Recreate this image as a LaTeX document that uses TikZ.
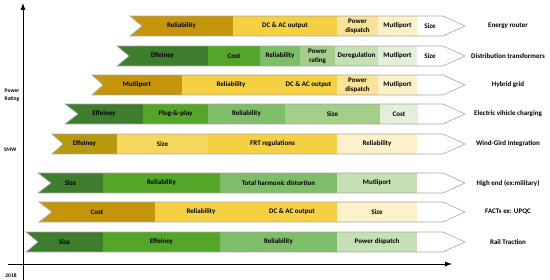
\documentclass[tikz,border=0pt]{standalone}
\usepackage{fontspec}
\setmainfont{Carlito}
\usepackage{tikz}
\usetikzlibrary{arrows.meta,positioning}

\definecolor{gold}{RGB}{197,150,12}
\definecolor{goldolive}{RGB}{184,152,14}
\definecolor{yel}{RGB}{245,208,66}
\definecolor{yelpale}{RGB}{250,226,150}
\definecolor{yelfaint}{RGB}{252,241,200}
\definecolor{grdark}{RGB}{62,125,46}
\definecolor{grmid}{RGB}{84,165,40}
\definecolor{grlight}{RGB}{126,190,104}
\definecolor{grpale}{RGB}{164,207,138}
\definecolor{grfaint}{RGB}{198,224,181}
\definecolor{grwhite}{RGB}{226,239,218}

\begin{document}
\begin{tikzpicture}[
  x=1pt,y=-1pt,
  font=\bfseries\fontsize{7}{9}\selectfont,
  seg/.style={anchor=north west,minimum height=20,inner sep=0pt,outer sep=0pt,align=center},
  rim/.style={draw=gray!70,line width=0.6pt},
  tag/.style={align=center},
  lab/.style={align=center,font=\bfseries\fontsize{5.5}{8}\selectfont},
  axis/.style={-{Latex[length=7pt,width=5pt]},line width=0.8pt}
]
\useasboundingbox (0,0) rectangle (550,280);

% energy router
\node[seg,fill=gold,minimum width=103] (er1) at (130,16) {Reliability};
\node[seg,fill=yel,minimum width=104,right=0pt of er1] (er2) {DC \& AC output};
\node[seg,fill=yelpale,minimum width=41,right=0pt of er2] (er3) {Power\\dispatch};
\node[seg,fill=yelfaint,minimum width=39,right=0pt of er3] (er4) {Mutliport};
\node[seg,minimum width=26,right=0pt of er4] (er5) {Size};
\fill[white] (130,16) -- (142,26) -- (130,36) -- cycle;
\draw[rim] (130,16) -- (443,16) -- (465,26) -- (443,36) -- (130,36) -- (142,26) -- cycle;
\node[tag] (erl) at (508,26) {Energy router};

% distribution transformers
\node[seg,fill=grdark,minimum width=91] (dt1) at (117,46) {Effeiney};
\node[seg,fill=grmid,minimum width=52,right=0pt of dt1] (dt2) {Cost};
\node[seg,fill=grlight,minimum width=40,right=0pt of dt2] (dt3) {Reliability};
\node[seg,fill=grpale,minimum width=35,right=0pt of dt3] (dt4) {Power\\rating};
\node[seg,fill=grfaint,minimum width=43,right=0pt of dt4] (dt5) {Deregulation};
\node[seg,fill=grwhite,minimum width=39,right=0pt of dt5] (dt6) {Mutliport};
\node[seg,minimum width=26,right=0pt of dt6] (dt7) {Size};
\fill[white] (117,46) -- (129,56) -- (117,66) -- cycle;
\draw[rim] (117,46) -- (443,46) -- (465,56) -- (443,66) -- (117,66) -- (129,56) -- cycle;
\node[tag] (dtl) at (508,56) {Distribution transformers};

% hybrid grid
\node[seg,fill=gold,minimum width=90] (hg1) at (92,75) {Mutliport};
\node[seg,fill=yel,minimum width=98,right=0pt of hg1] (hg2) {Reliability};
\node[seg,fill=yel,minimum width=57,right=0pt of hg2] (hg3) {DC \& AC output};
\node[seg,fill=yelpale,minimum width=41,right=0pt of hg3] (hg4) {Power\\dispatch};
\node[seg,fill=yelfaint,minimum width=39,right=0pt of hg4] (hg5) {Mutliport};
\fill[white] (92,75) -- (103,85) -- (92,95) -- cycle;
\draw[rim] (92,75) -- (443,75) -- (465,85) -- (443,95) -- (92,95) -- (103,85) -- cycle;
\node[tag] (hgl) at (508,85) {Hybrid grid};

% electric vehicle charging
\node[seg,fill=grdark,minimum width=78] (ev1) at (65,104) {Effeiney};
\node[seg,fill=grmid,minimum width=65,right=0pt of ev1] (ev2) {Plug-\&-play};
\node[seg,fill=grlight,minimum width=77,right=0pt of ev2] (ev3) {Reliability};
\node[seg,fill=grpale,minimum width=95,right=0pt of ev3] (ev4) {Size};
\node[seg,fill=grwhite,minimum width=38,right=0pt of ev4] (ev5) {Cost};
\fill[white] (65,104) -- (78,114) -- (65,124) -- cycle;
\draw[rim] (65,104) -- (443,104) -- (465,114) -- (443,124) -- (65,124) -- (78,114) -- cycle;
\node[tag] (evl) at (508,114) {Electric vihicle charging};

% wind grid
\node[seg,fill=goldolive,minimum width=65] (wg1) at (52,134) {Effeiney};
\node[seg,fill=yel!85!white,minimum width=91,right=0pt of wg1] (wg2) {Size};
\node[seg,fill=yel,minimum width=129,right=0pt of wg2] (wg3) {FRT regulations};
\node[seg,fill=yelfaint,minimum width=80,right=0pt of wg3] (wg4) {Reliability};
\fill[white] (52,134) -- (63,144) -- (52,154) -- cycle;
\draw[rim] (52,134) -- (443,134) -- (465,144) -- (443,154) -- (52,154) -- (63,144) -- cycle;
\node[tag] (wgl) at (508,144) {Wind-Gird Integration};

% high end
\node[seg,fill=grdark,minimum width=65] (he1) at (38,173) {Size};
\node[seg,fill=grmid,minimum width=117,right=0pt of he1] (he2) {Reliability};
\node[seg,fill=grlight,minimum width=117,right=0pt of he2] (he3) {Total harmonic distortion};
\node[seg,fill=grfaint,minimum width=80,right=0pt of he3] (he4) {Mutliport};
\fill[white] (38,173) -- (51,183) -- (38,193) -- cycle;
\draw[rim] (38,173) -- (443,173) -- (465,183) -- (443,193) -- (38,193) -- (51,183) -- cycle;
\node[tag] (hel) at (508,183) {High end (ex:military)};

% facts
\node[seg,fill=gold,minimum width=116] (fa1) at (39,202) {Cost};
\node[seg,fill=yel,minimum width=92,right=0pt of fa1] (fa2) {Reliability};
\node[seg,fill=yel,minimum width=90,right=0pt of fa2] (fa3) {DC \& AC output};
\node[seg,fill=yelfaint,minimum width=80,right=0pt of fa3] (fa4) {Size};
\fill[white] (39,202) -- (52,212) -- (39,222) -- cycle;
\draw[rim] (39,202) -- (443,202) -- (465,212) -- (443,222) -- (39,222) -- (52,212) -- cycle;
\node[tag] (fal) at (508,212) {FACTs ex: UPQC};

% rail traction
\node[seg,fill=grdark,minimum width=77] (rt1) at (26,232) {Size};
\node[seg,fill=grmid,minimum width=117,right=0pt of rt1] (rt2) {Effeiney};
\node[seg,fill=grlight,minimum width=117,right=0pt of rt2] (rt3) {Reliability};
\node[seg,fill=grfaint,minimum width=80,right=0pt of rt3] (rt4) {Power dispatch};
\fill[white] (26,232) -- (38,242) -- (26,252) -- cycle;
\draw[rim] (26,232) -- (443,232) -- (465,242) -- (443,252) -- (26,252) -- (38,242) -- cycle;
\node[tag] (rtl) at (508,242) {Rail Traction};

% axes
\coordinate (yfoot) at (23,280);
\coordinate (ytip) at (23,3);
\coordinate (xfoot) at (8,264);
\coordinate (xtip) at (452,264);
\draw[axis] (yfoot) -- (ytip);
\draw[axis] (xfoot) -- (xtip);
\node[lab] (rating) at (12,95) {Power\\Rating};
\node[lab] (mw) at (10,150) {1MW};
\node[lab] (year) at (11,276) {2018};
\end{tikzpicture}
\end{document}
